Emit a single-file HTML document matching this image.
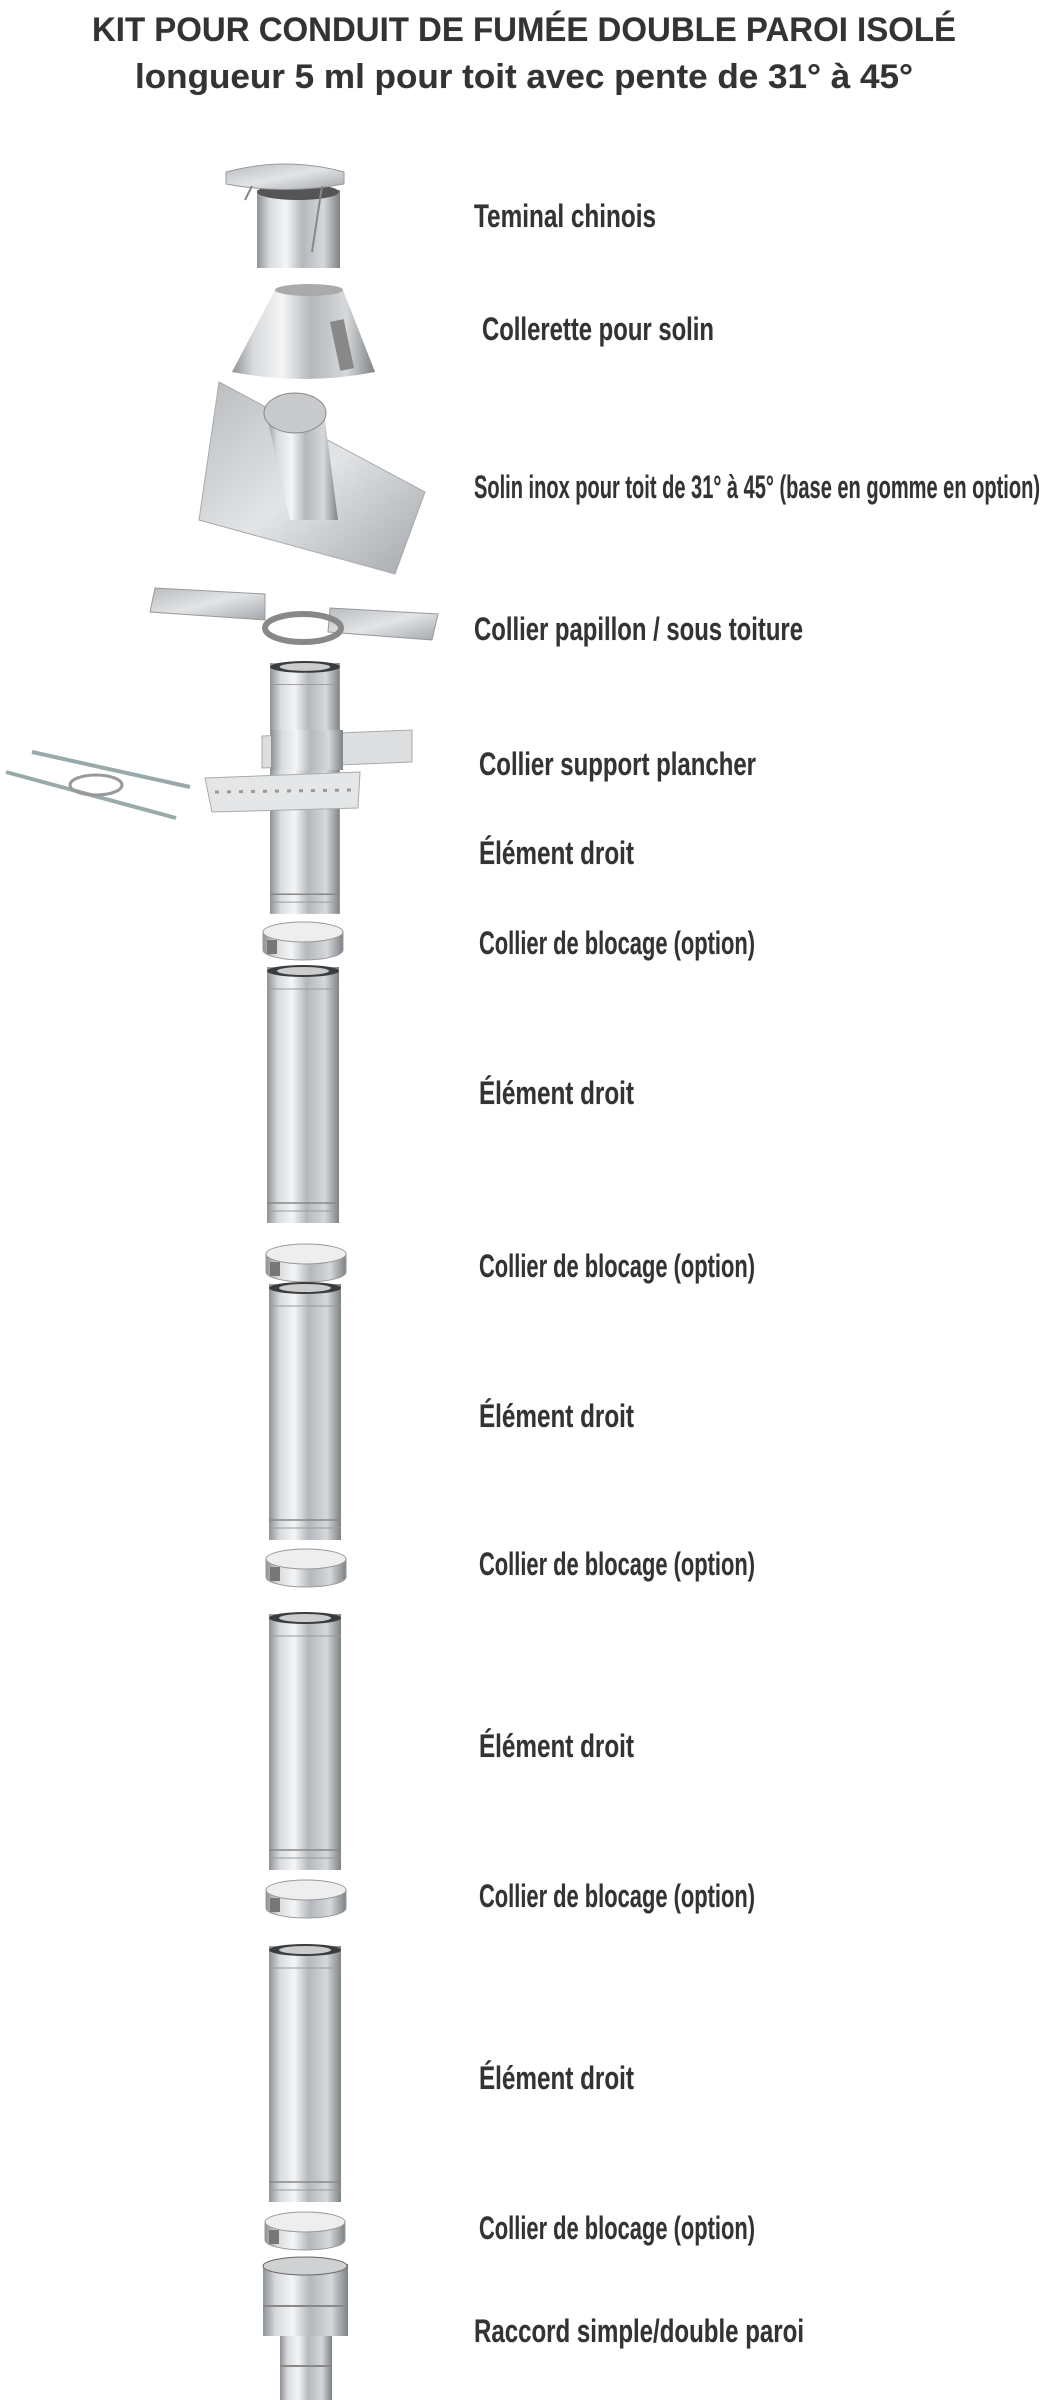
<!DOCTYPE html>
<html><head><meta charset="utf-8"><style>
html,body{margin:0;padding:0;background:#fff;}
svg{display:block;}
text{font-family:"Liberation Sans",sans-serif;font-weight:bold;fill:#333;stroke:#ddd;stroke-width:0.6;paint-order:stroke;}
</style></head><body>
<svg width="1040" height="2400" viewBox="0 0 1040 2400" xmlns="http://www.w3.org/2000/svg">
<defs>
<linearGradient id="m" x1="0" x2="1" y1="0" y2="0">
<stop offset="0" stop-color="#8e9296"/><stop offset="0.15" stop-color="#d8dadc"/><stop offset="0.35" stop-color="#f4f5f6"/><stop offset="0.55" stop-color="#b4b8bc"/><stop offset="0.8" stop-color="#d6d8da"/><stop offset="1" stop-color="#7d8286"/>
</linearGradient>
<linearGradient id="p" x1="0" x2="1" y1="0" y2="1">
<stop offset="0" stop-color="#b9bcbf"/><stop offset="0.5" stop-color="#e2e4e6"/><stop offset="1" stop-color="#a4a8ac"/>
</linearGradient>
<g id="pipe">
<rect x="0" y="0" width="72" height="256" fill="url(#m)"/>
<ellipse cx="36" cy="4" rx="36" ry="6" fill="#3a3d40"/>
<ellipse cx="36" cy="4" rx="26" ry="4" fill="#ccc"/>
<line x1="0" y1="22" x2="72" y2="22" stroke="#999" stroke-width="1"/>
<line x1="0" y1="236" x2="72" y2="236" stroke="#888" stroke-width="1.5"/>
<line x1="0" y1="244" x2="72" y2="244" stroke="#999" stroke-width="1"/>
</g>
<g id="collar">
<ellipse cx="40" cy="14" rx="40" ry="10" fill="#eee" stroke="#999"/>
<path d="M0 14 V32 A40 10 0 0 0 80 32 V14 A40 10 0 0 1 0 14Z" fill="url(#m)" stroke="#999"/>
<rect x="4" y="22" width="10" height="14" fill="#777"/>
</g>
</defs>

<text x="92" y="41" font-size="34" textLength="864" lengthAdjust="spacingAndGlyphs">KIT POUR CONDUIT DE FUMÉE DOUBLE PAROI ISOLÉ</text>
<text x="135" y="88" font-size="34" textLength="778" lengthAdjust="spacingAndGlyphs">longueur 5 ml pour toit avec pente de 31° à 45°</text>

<!-- chinese cap -->
<rect x="257" y="190" width="83" height="78" fill="url(#m)"/>
<ellipse cx="298" cy="192" rx="41" ry="8" fill="#555"/>
<path d="M226 172 Q285 156 344 172 L344 184 Q285 195 226 184Z" fill="url(#p)" stroke="#999"/>
<line x1="252" y1="186" x2="245" y2="200" stroke="#888" stroke-width="2"/>
<line x1="322" y1="186" x2="312" y2="252" stroke="#888" stroke-width="2"/>
<!-- collerette -->
<path d="M275 290 L343 290 L375 372 Q304 386 232 372Z" fill="url(#m)"/>
<ellipse cx="309" cy="290" rx="34" ry="6" fill="#aaa"/>
<rect x="335" y="320" width="14" height="50" fill="#888" transform="rotate(-12 342 345)"/>
<!-- solin -->
<path d="M219 382 L425 492 L395 574 L199 520Z" fill="url(#p)" stroke="#aaa"/>
<path d="M266 413 L324 413 L338 520 L290 520Z" fill="url(#m)"/>
<ellipse cx="295" cy="413" rx="31" ry="20" fill="#c8cacc" stroke="#888"/>
<!-- papillon -->
<path d="M155 588 L265 594 L265 620 L150 612Z" fill="url(#p)" stroke="#999"/>
<path d="M330 608 L438 614 L432 640 L328 632Z" fill="url(#p)" stroke="#999"/>
<ellipse cx="303" cy="628" rx="38" ry="14" fill="none" stroke="#888" stroke-width="6"/>
<!-- pipe 1 -->
<use href="#pipe" x="270" y="663" transform="translate(270 663) scale(0.97 0.98) translate(-270 -663)"/>
<path d="M262 736 L412 730 L412 762 L262 768Z" fill="#dcdedf" stroke="#aaa"/>
<rect x="271" y="730" width="72" height="40" fill="url(#m)"/>
<path d="M205 778 L360 772 L358 808 L212 812Z" fill="#e4e6e7" stroke="#aaa"/>
<line x1="215" y1="792" x2="355" y2="790" stroke="#999" stroke-dasharray="4 8" stroke-width="3"/>
<line x1="32" y1="752" x2="190" y2="787" stroke="#9aa" stroke-width="4"/>
<line x1="6" y1="772" x2="176" y2="818" stroke="#9aa" stroke-width="4"/>
<ellipse cx="96" cy="785" rx="26" ry="10" fill="none" stroke="#999" stroke-width="3"/>
<!-- collars & pipes -->
<use href="#collar" x="263" y="918"/>
<use href="#pipe" x="267" y="967"/>
<use href="#collar" x="266" y="1240"/>
<use href="#pipe" x="269" y="1284"/>
<use href="#collar" x="266" y="1545"/>
<use href="#pipe" x="269" y="1614"/>
<use href="#collar" x="266" y="1876"/>
<use href="#pipe" x="269" y="1946"/>
<use href="#collar" x="265" y="2208"/>
<!-- raccord -->
<rect x="263" y="2264" width="85" height="72" fill="url(#m)"/>
<ellipse cx="305" cy="2266" rx="42" ry="9" fill="#cfd1d3" stroke="#666"/>
<line x1="263" y1="2306" x2="348" y2="2306" stroke="#888" stroke-width="2"/>
<rect x="280" y="2336" width="52" height="64" fill="url(#m)"/>
<line x1="280" y1="2366" x2="332" y2="2366" stroke="#888" stroke-width="2"/>

<!-- labels -->
<g font-size="32">
<text x="474" y="227" textLength="182" lengthAdjust="spacingAndGlyphs">Teminal chinois</text>
<text x="482" y="340" textLength="232" lengthAdjust="spacingAndGlyphs">Collerette pour solin</text>
<text x="474" y="498" textLength="566" lengthAdjust="spacingAndGlyphs">Solin inox pour toit de 31° à 45° (base en gomme en option)</text>
<text x="474" y="640" textLength="329" lengthAdjust="spacingAndGlyphs">Collier papillon / sous toiture</text>
<text x="479" y="775" textLength="277" lengthAdjust="spacingAndGlyphs">Collier support plancher</text>
<text x="479" y="864" textLength="155" lengthAdjust="spacingAndGlyphs">Élément droit</text>
<text x="479" y="954" textLength="276" lengthAdjust="spacingAndGlyphs">Collier de blocage (option)</text>
<text x="479" y="1104" textLength="155" lengthAdjust="spacingAndGlyphs">Élément droit</text>
<text x="479" y="1277" textLength="276" lengthAdjust="spacingAndGlyphs">Collier de blocage (option)</text>
<text x="479" y="1427" textLength="155" lengthAdjust="spacingAndGlyphs">Élément droit</text>
<text x="479" y="1575" textLength="276" lengthAdjust="spacingAndGlyphs">Collier de blocage (option)</text>
<text x="479" y="1757" textLength="155" lengthAdjust="spacingAndGlyphs">Élément droit</text>
<text x="479" y="1907" textLength="276" lengthAdjust="spacingAndGlyphs">Collier de blocage (option)</text>
<text x="479" y="2089" textLength="155" lengthAdjust="spacingAndGlyphs">Élément droit</text>
<text x="479" y="2239" textLength="276" lengthAdjust="spacingAndGlyphs">Collier de blocage (option)</text>
<text x="474" y="2342" textLength="330" lengthAdjust="spacingAndGlyphs">Raccord simple/double paroi</text>
</g>
</svg>
</body></html>
